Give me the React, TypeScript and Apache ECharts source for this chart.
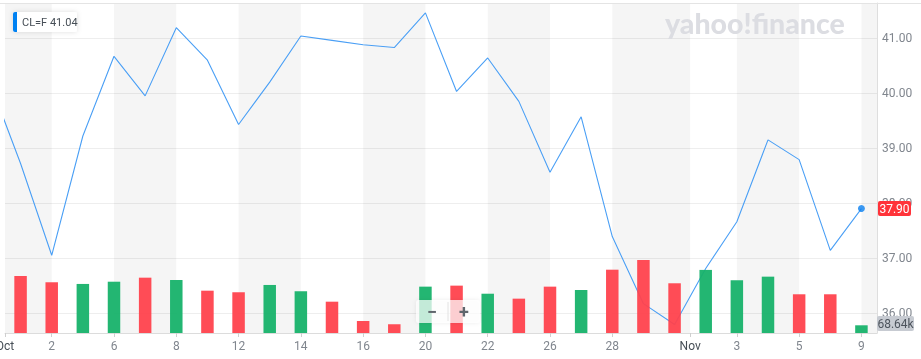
import React, { useEffect, useRef } from 'react';
import * as echarts from 'echarts';

// ---- data ----
const symbolName = 'CL=F';
const legendValue = '41.04';
const priorDate = 'Sep 30';
const priorClose = 40.22;
const dates = [
  'Oct 1', 'Oct 2', 'Oct 5', 'Oct 6', 'Oct 7', 'Oct 8', 'Oct 9',
  'Oct 12', 'Oct 13', 'Oct 14', 'Oct 15', 'Oct 16',
  'Oct 19', 'Oct 20', 'Oct 21', 'Oct 22', 'Oct 23',
  'Oct 26', 'Oct 27', 'Oct 28', 'Oct 29', 'Oct 30',
  'Nov 2', 'Nov 3', 'Nov 4', 'Nov 5', 'Nov 6', 'Nov 9',
];
const closes = [
  38.72, 37.05, 39.22, 40.67, 39.95, 41.19, 40.6,
  39.43, 40.2, 41.04, 40.96, 40.88,
  40.83, 41.46, 40.03, 40.64, 39.85,
  38.56, 39.57, 37.39, 36.17, 35.79,
  36.81, 37.66, 39.15, 38.79, 37.14, 37.9,
];
const volumesK = [
  508, 452, 437, 457, 493, 472, 377,
  363, 428, 372, 279, 107,
  78, 413, 422, 350, 306,
  413, 383, 564, 651, 443,
  562, 470, 502, 345, 345, 68.64,
];
const lastVolumeLabel = '68.64k';
const xTickLabels = ['Oct', '2', '6', '8', '12', '14', '16', '20', '22', '26', '28', 'Nov', '3', '5', '9'];
const xTickPos = [-0.5, 1, 3, 5, 7, 9, 11, 13, 15, 17, 19, 21.5, 23, 25, 27];
const monthLabels = ['Oct', 'Nov'];

const RED = '#ff424d';
const GREEN = '#17b26a';
const FONT = 'Roboto, "Liberation Sans", sans-serif';

export default function App() {
  const ref = useRef<HTMLDivElement>(null);
  useEffect(() => {
    const chart = echarts.init(ref.current!, null, { renderer: 'svg' });
    const W = 921;
    const gridLeft = 5, gridRight = 44, gridTop = 3, gridBottom = 26;
    const xMin = -0.5, xMax = dates.length - 0.5;

    const bounds = [...xTickPos, xMax];
    const bands: any[] = [];
    for (let i = 0; i < bounds.length - 1; i += 2) {
      bands.push([{ xAxis: bounds[i] }, { xAxis: bounds[i + 1] }]);
    }

    const lineData = [[-1, priorClose], ...closes.map((v, i) => [i, v])];
    const barData = volumesK.map((v, i) => {
      const prev = i === 0 ? priorClose : closes[i - 1];
      return { value: v, itemStyle: { color: closes[i] >= prev ? GREEN : RED } };
    });

    const option: any = {
      animation: false,
      textStyle: { fontFamily: FONT },
      grid: {
        left: gridLeft, right: gridRight, top: gridTop, bottom: gridBottom,
        containLabel: false, outerBoundsMode: 'none',
      },
      xAxis: [
        {
          type: 'category',
          data: dates,
          boundaryGap: true,
          show: false,
        },
        {
          type: 'value',
          position: 'bottom',
          min: xMin,
          max: xMax,
          splitLine: { show: false },
          axisLine: { show: true, onZero: false, lineStyle: { color: '#dcdcdc', width: 1 } },
          axisTick: { show: true, customValues: xTickPos, length: 4, lineStyle: { color: '#cfcfcf' } },
          axisLabel: {
            customValues: xTickPos,
            margin: 7,
            fontSize: 12,
            color: '#80868e',
            showMinLabel: true,
            showMaxLabel: true,
            hideOverlap: false,
            alignMinLabel: 'center',
            alignMaxLabel: 'center',
            formatter: (v: number) => {
              const idx = xTickPos.findIndex((p) => Math.abs(p - v) < 1e-6);
              if (idx < 0) return '';
              const t = xTickLabels[idx];
              return monthLabels.includes(t) ? `{m|${t}}` : t;
            },
            rich: { m: { color: '#464e56', fontSize: 12, fontFamily: FONT } },
          },
        },
      ],
      yAxis: [
        {
          type: 'value',
          position: 'right',
          min: 35.636,
          max: 41.64,
          splitNumber: 6,
          axisLine: { show: true, onZero: false, lineStyle: { color: '#dedede' } },
          axisTick: { show: false },
          splitLine: { show: true, lineStyle: { color: '#eeeeee', width: 1 } },
          axisLabel: {
            margin: 5,
            fontSize: 12,
            color: '#80868e',
            showMinLabel: false,
            showMaxLabel: false,
            formatter: (v: number) => v.toFixed(2),
          },
        },
        {
          type: 'value',
          min: 0,
          max: 2940,
          show: false,
          splitLine: { show: false },
          axisLine: { show: false, onZero: false },
        },
      ],
      series: [
        {
          type: 'line',
          xAxisIndex: 1,
          yAxisIndex: 0,
          data: lineData,
          showSymbol: false,
          clip: true,
          z: 3,
          lineStyle: { color: '#4a9ff5', width: 1.1 },
          markArea: {
            silent: true,
            itemStyle: { color: 'rgba(0,0,0,0.038)' },
            data: bands,
          },
        },
        {
          type: 'bar',
          xAxisIndex: 0,
          yAxisIndex: 1,
          data: barData,
          barWidth: 12.5,
          z: 5,
          itemStyle: { opacity: 0.95 },
        },
        {
          type: 'scatter',
          xAxisIndex: 1,
          yAxisIndex: 0,
          data: [[closes.length - 1, closes[closes.length - 1]]],
          symbolSize: 7,
          z: 6,
          itemStyle: { color: '#0a80f0' },
        },
      ],
    };
    chart.setOption(option);

    const xRight = W - gridRight;
    const yTag = chart.convertToPixel({ yAxisIndex: 0 }, closes[closes.length - 1]) as number;
    const H = 359;
    const axisY = H - gridBottom;

    chart.setOption({
      graphic: [
        {
          type: 'line',
          z: 1,
          shape: { x1: 0, y1: gridTop + 0.5, x2: W, y2: gridTop + 0.5 },
          style: { stroke: '#e4e4e4', lineWidth: 1 },
        },
        {
          type: 'text',
          z: 2,
          left: 665,
          top: 8,
          style: {
            text: 'yahoo!finance',
            font: '900 28.5px Lato, "Open Sans", sans-serif',
            fill: '#dcdde2',
          },
        },
        // legend chip
        {
          type: 'rect',
          z: 20,
          shape: { x: 13, y: 12, width: 64, height: 20, r: 2 },
          style: { fill: '#ffffff', shadowBlur: 5, shadowColor: 'rgba(0,0,0,0.13)' },
        },
        {
          type: 'rect',
          z: 21,
          shape: { x: 13, y: 12, width: 4, height: 20, r: [2, 0, 0, 2] },
          style: { fill: '#0081f2' },
        },
        {
          type: 'text',
          z: 21,
          x: 22,
          y: 22.5,
          style: {
            text: `${symbolName} ${legendValue}`,
            font: `11px ${FONT}`,
            fill: '#464e56',
            verticalAlign: 'middle',
          },
        },
        // zoom buttons
        {
          type: 'rect',
          z: 20,
          shape: { x: 416, y: 300, width: 64, height: 23, r: 3 },
          style: { fill: 'rgba(255,255,255,0.72)', shadowBlur: 4, shadowColor: 'rgba(0,0,0,0.1)' },
        },
        {
          type: 'line',
          z: 21,
          shape: { x1: 448, y1: 302, x2: 448, y2: 321 },
          style: { stroke: '#e2e2e2', lineWidth: 1 },
        },
        {
          type: 'text',
          z: 21,
          x: 432,
          y: 311.5,
          style: { text: '\u2212', font: `bold 18px ${FONT}`, fill: '#5f656c', align: 'center', verticalAlign: 'middle' },
        },
        {
          type: 'text',
          z: 21,
          x: 464,
          y: 311.5,
          style: { text: '+', font: `bold 18px ${FONT}`, fill: '#5f656c', align: 'center', verticalAlign: 'middle' },
        },
        // last price tag
        {
          type: 'rect',
          z: 30,
          shape: { x: xRight + 1, y: yTag - 7.5, width: 33, height: 15, r: 2 },
          style: { fill: '#ff333a' },
        },
        {
          type: 'text',
          z: 31,
          x: xRight + 17.5,
          y: yTag + 0.5,
          style: {
            text: closes[closes.length - 1].toFixed(2),
            font: `12px ${FONT}`,
            fill: '#ffffff',
            align: 'center',
            verticalAlign: 'middle',
          },
        },
        // last volume tag
        {
          type: 'rect',
          z: 30,
          shape: { x: xRight, y: axisY - 17, width: 37, height: 15, r: 2 },
          style: { fill: '#c7cbd2' },
        },
        {
          type: 'text',
          z: 31,
          x: xRight + 18.5,
          y: axisY - 9,
          style: {
            text: lastVolumeLabel,
            font: `12px ${FONT}`,
            fill: '#4d545d',
            align: 'center',
            verticalAlign: 'middle',
          },
        },
      ],
    });

    return () => chart.dispose();
  }, []);
  return <div ref={ref} style={{ position: 'fixed', left: 0, top: 0, width: 921, height: 359 }} />;
}
